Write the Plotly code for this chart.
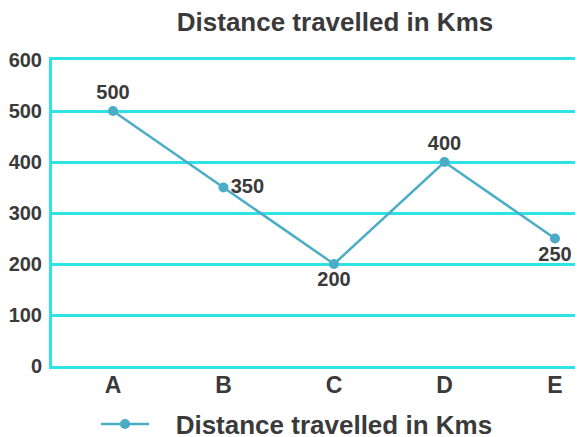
import plotly.graph_objects as go

categories = ["A", "B", "C", "D", "E"]
distance = [500, 350, 200, 400, 250]
label_pos = ["top center", "middle right", "bottom center", "top center", "bottom center"]
series_name = "Distance travelled in Kms"
title_text = "Distance travelled in Kms"
y_ticks = [0, 100, 200, 300, 400, 500, 600]

GRID = "#2EE3E3"
LINE = "#4BACC6"
TEXT = "#3A3A3A"
FONT = "Liberation Sans, Arial, sans-serif"

fig = go.Figure()
fig.add_trace(go.Scatter(
    x=categories, y=distance, name="\u00a0\u00a0\u00a0" + series_name,
    mode="lines+markers+text",
    line=dict(color=LINE, width=2.5),
    marker=dict(color=LINE, size=10),
    text=[str(v) for v in distance],
    textposition=label_pos,
    textfont=dict(family=FONT, size=20, color=TEXT, weight="bold"),
    cliponaxis=False,
))

fig.update_layout(
    width=583, height=437,
    margin=dict(l=44, r=0, t=52, b=79, autoexpand=False),
    paper_bgcolor="white", plot_bgcolor="white",
    font=dict(family=FONT, color=TEXT),
    title=dict(text=title_text, x=327 / 583, xref="container", xanchor="center",
               y=1 - 14 / 437, yref="container", yanchor="middle",
               font=dict(family=FONT, size=26, color=TEXT, weight="bold")),
    showlegend=True,
    legend=dict(orientation="h", x=0.4545, xanchor="center", y=-0.19, yanchor="middle",
                itemwidth=48,
                font=dict(family=FONT, size=26, color=TEXT, weight="bold")),
)
fig.update_xaxes(
    type="category", range=[-0.552, 4.326], automargin=False,
    showgrid=False, showline=True, mirror=True, linecolor=GRID, linewidth=3,
    tickfont=dict(family=FONT, size=23, color=TEXT, weight="bold"),
    ticks="", ticklabelstandoff=-4,
)
fig.update_yaxes(
    range=[0, 600], tickvals=y_ticks, automargin=False,
    showgrid=True, gridcolor=GRID, gridwidth=3,
    showline=True, linecolor=GRID, linewidth=3,
    zeroline=False,
    tickfont=dict(family=FONT, size=20, color=TEXT, weight="bold"),
    ticks="", ticklabelstandoff=3,
)

fig.write_html("out.html")
